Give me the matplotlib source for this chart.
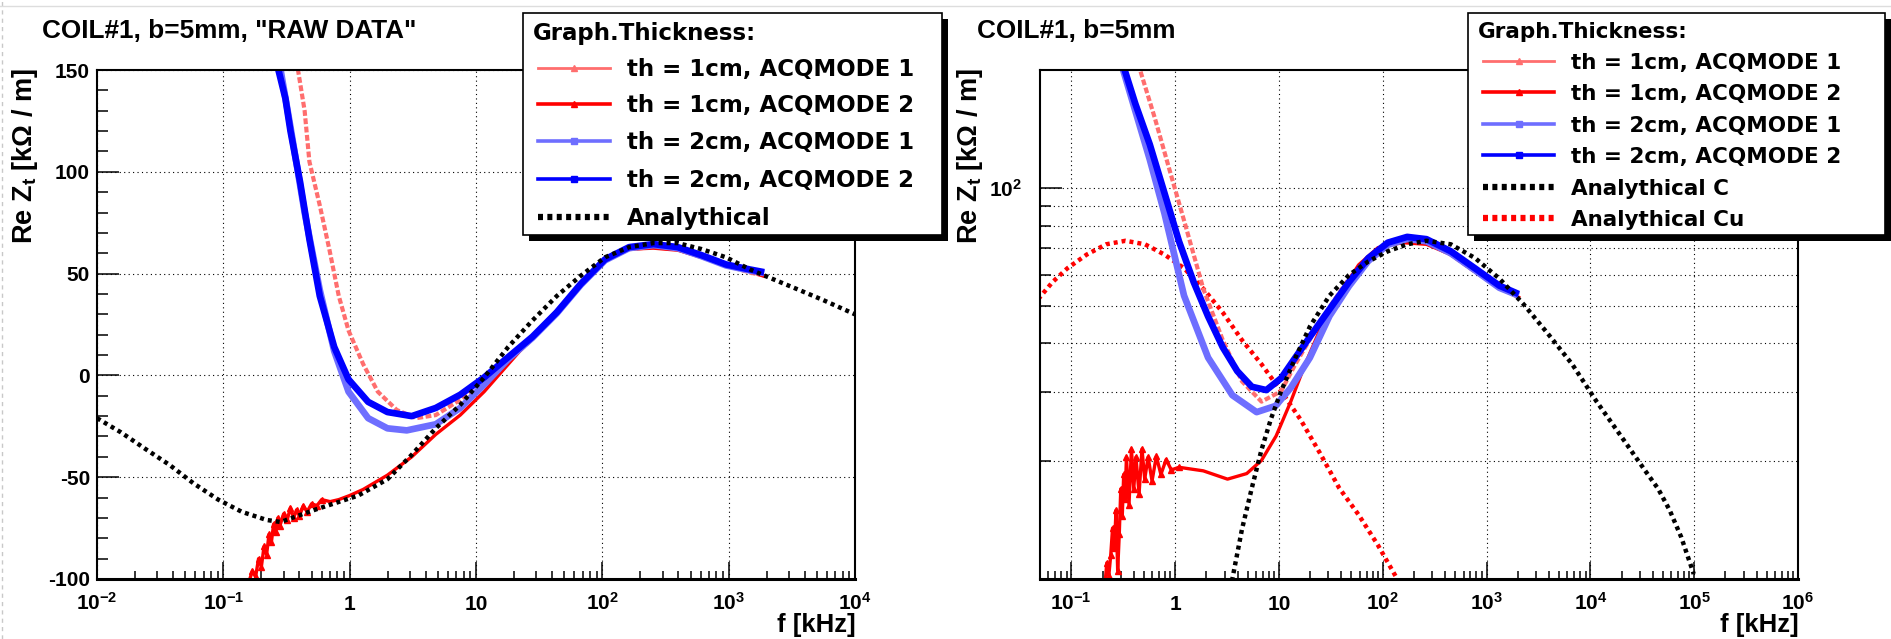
import matplotlib
matplotlib.use("Agg")
import matplotlib.pyplot as plt
from matplotlib.lines import Line2D
from matplotlib.patches import Rectangle
from matplotlib.ticker import (FixedLocator, FixedFormatter, LogLocator,
                               MultipleLocator, NullFormatter)

plt.rcParams['font.family'] = ['Liberation Sans', 'DejaVu Sans']
plt.rcParams['font.weight'] = 'bold'
plt.rcParams['mathtext.fontset'] = 'custom'
plt.rcParams['mathtext.rm'] = 'Liberation Sans:bold'
plt.rcParams['mathtext.bf'] = 'Liberation Sans:bold'
plt.rcParams['mathtext.it'] = 'Liberation Sans:bold'
plt.rcParams['mathtext.default'] = 'bf'

# ------------------------------------------------------------------ data
# Left panel: "RAW DATA" (linear y)
L_f_1cm_m1 = [0.36, 0.39, 0.44, 0.48, 0.58, 0.69, 0.82, 0.98, 1.28, 1.67, 2.36, 3.37, 4.8, 7.5,
              11.6, 18, 28, 43.6, 67.6, 105, 163, 254, 395, 613, 953, 1480, 1910]
L_v_1cm_m1 = [175, 150, 130, 105, 83.5, 62, 39, 22, 5.5, -8, -17, -21, -19.5, -12,
              -3, 7, 18, 31, 45, 56.5, 62, 63, 62, 58, 54, 50.5, 49]

L_f_1cm_m2 = [0.16, 0.17, 0.18, 0.19, 0.20, 0.21, 0.22, 0.23, 0.24, 0.25, 0.26, 0.27, 0.28,
              0.30, 0.32, 0.34, 0.36, 0.38, 0.40, 0.43, 0.46, 0.50, 0.55, 0.60, 0.70, 0.82,
              1.0, 1.28, 1.99, 3.1, 4.8, 7.5, 11.6, 18, 28, 43.6, 67.6, 105, 163, 254, 395,
              613, 953, 1480, 1910]
L_v_1cm_m2 = [-101, -96, -99, -90, -94, -84, -88, -78, -82, -73, -77, -70, -74,
              -68, -71, -65, -70, -66, -69, -64, -67, -63, -64, -61, -62, -61,
              -59, -56, -49, -40, -29, -19.5, -8, 5.5, 19, 32, 45, 57, 62, 62.5, 61.5,
              58, 54, 51, 48.7]

L_f_2cm_m1 = [0.26, 0.284, 0.34, 0.44, 0.58, 0.754, 0.98, 1.40, 1.99, 2.83, 4.8, 7.5, 11.6,
              18, 28, 43.6, 67.6, 105, 163, 254, 395, 613, 953, 1480, 1910]
L_v_2cm_m1 = [175, 150, 122, 80, 42, 12, -8, -21, -26, -27, -24, -16, -4.5,
              8, 18.5, 30.5, 44.5, 56.5, 62.5, 64, 62.5, 58.5, 54, 51.5, 50.3]

L_f_2cm_m2 = [0.25, 0.273, 0.31, 0.34, 0.405, 0.48, 0.58, 0.754, 0.98, 1.40, 1.99, 3.1, 4.8,
              7.5, 11.6, 18, 28, 43.6, 67.6, 105, 163, 254, 395, 613, 953, 1480, 1910]
L_v_2cm_m2 = [170, 150, 136, 120, 95, 67, 39, 14, -2, -13, -18, -20, -16,
              -9.5, -1, 9, 19, 31, 45, 57, 63, 64.5, 63, 59, 54.5, 52, 50.7]

L_f_anal = [0.01, 0.0155, 0.024, 0.0376, 0.058, 0.091, 0.14, 0.22, 0.284, 0.53, 1.17, 1.99,
            3.1, 4.8, 7.5, 11.6, 18, 28, 43.6, 67.6, 105, 163, 254, 395, 613, 953, 1480,
            2300, 3600, 5600, 10000]
L_v_anal = [-21, -28, -36, -44, -53, -61, -67, -71, -72, -66, -59, -51,
            -39, -26, -14.5, -1, 14, 27, 39, 49, 58, 63, 65, 65, 62, 58, 52,
            47, 42, 37, 30]

# Right panel (log y)
R_f_1cm_m1 = [0.40, 0.46, 0.637, 0.879, 1.22, 1.87, 2.88, 4.41, 6.8, 10.5, 14.5, 19.9, 30.7,
              47.2, 72.6, 112, 172, 264, 453, 777, 1330, 2040]
R_v_1cm_m1 = [240, 200, 151, 111.7, 82.5, 55.2, 40.8, 32.0, 28.4, 30.2, 35.5, 41, 49.5,
              58.5, 66.5, 72, 73.5, 72.5, 67.5, 61, 55.5, 52.5]

R_f_1cm_m2 = [0.21, 0.22, 0.23, 0.24, 0.25, 0.26, 0.27, 0.28, 0.29, 0.30, 0.31, 0.32, 0.33,
              0.34, 0.36, 0.38, 0.40, 0.42, 0.45, 0.48, 0.51, 0.55, 0.60, 0.66, 0.73, 0.82,
              0.92, 1.09, 1.87, 3.2, 4.9, 6.8, 9.4, 13, 17.9, 24.8, 38, 58.5, 90, 155, 264,
              453, 777, 1330, 2040]
R_v_1cm_m2 = [9.5, 11.0, 10.2, 11.5, 13.5, 12.0, 15.0, 10.5, 13.0, 17.0, 14.5, 18.5, 16.0,
              20.5, 15.5, 21.5, 17.0, 20.5, 16.5, 21.5, 18.0, 20.5, 17.8, 20.6, 18.5, 20.2,
              19.0, 19.3, 18.9, 18.0, 18.6, 20.1, 23.2, 28.4, 35.4, 43.3, 53, 63.5, 70.3,
              72.4, 71.7, 67.5, 61, 55.7, 52.5]

R_f_2cm_m1 = [0.28, 0.316, 0.571, 0.79, 1.22, 2.08, 3.56, 6.1, 9.3, 13, 19.9, 30.7, 47.2,
              72.6, 112, 172, 264, 453, 777, 1330, 2040]
R_v_2cm_m1 = [240, 200, 118, 86, 53, 36.8, 29.5, 26.7, 27.7, 30.8, 36.8, 47, 56,
              65, 71.5, 74, 73, 68, 61.5, 55.5, 53]

R_f_2cm_m2 = [0.29, 0.327, 0.414, 0.571, 0.79, 1.09, 1.51, 2.08, 2.88, 3.97, 5.49, 7.57, 10.5,
              14.5, 19.9, 30.7, 47.2, 72.6, 112, 172, 264, 453, 777, 1330, 2040]
R_v_2cm_m2 = [240, 200, 164, 129, 97, 73, 57.4, 46.9, 39.1, 34.0, 31.0, 30.4, 32.6,
              36.9, 41.6, 48.9, 57.4, 66.1, 72.4, 74.9, 73.9, 68.8, 62.2, 56.2, 53.5]

R_f_anC = [3.4, 3.56, 4.41, 5.49, 6.8, 8.4, 10.5, 14.5, 19.9, 30.7, 47.2, 72.6, 112, 172, 264,
           453, 777, 1330, 2270, 3890, 6680, 11500, 19700, 33800, 45000, 58000, 75000, 99000]
R_v_anC = [9, 10, 13.4, 17.1, 21.4, 25.7, 30.2, 36.9, 44.2, 53, 59.8, 64.8, 68.8, 71.7, 73.2,
           71.7, 66.1, 58.6, 50.4, 42.4, 35.4, 28.4, 23.2, 18.9, 17.0, 15.0, 12.8, 10.3]

R_f_anCu = [0.048, 0.066, 0.092, 0.141, 0.217, 0.333, 0.513, 0.79, 1.22, 1.87, 2.88, 4.41,
            6.8, 10.5, 16.1, 24.8, 38, 58.5, 90, 138, 150]
R_v_anCu = [51.9, 57.4, 62.3, 67.5, 71.7, 73.2, 71.7, 67.5, 62.3, 55.2, 48, 40.8,
            35.4, 30.2, 25.6, 21.0, 17.1, 14.6, 12.2, 10, 9.5]

# ticks / labels
L_xtick_vals = [1e-2, 1e-1, 1, 10, 1e2, 1e3, 1e4]
L_xtick_labels = [r'$10^{-2}$', r'$10^{-1}$', '1', '10', r'$10^{2}$', r'$10^{3}$', r'$10^{4}$']
L_ytick_vals = [-100, -50, 0, 50, 100, 150]
L_ytick_labels = ['-100', '-50', '0', '50', '100', '150']
R_xtick_vals = [1e-1, 1, 10, 1e2, 1e3, 1e4, 1e5, 1e6]
R_xtick_labels = [r'$10^{-1}$', '1', '10', r'$10^{2}$', r'$10^{3}$', r'$10^{4}$',
                  r'$10^{5}$', r'$10^{6}$']
R_ytick_vals = [100]
R_ytick_labels = [r'$10^{2}$']
R_yminor_vals = [20, 30, 40, 50, 60, 70, 80, 90]

title_left = 'COIL#1, b=5mm, "RAW DATA"'
title_right = 'COIL#1, b=5mm'
ylabel = r'Re $Z_{t}$ [kΩ / m]'
xlabel = 'f [kHz]'
legend_title = 'Graph.Thickness:'
lab_1cm_m1 = 'th = 1cm, ACQMODE 1'
lab_1cm_m2 = 'th = 1cm, ACQMODE 2'
lab_2cm_m1 = 'th = 2cm, ACQMODE 1'
lab_2cm_m2 = 'th = 2cm, ACQMODE 2'

# ------------------------------------------------------------------ styles
C_LRED = '#ff6e6e'
C_RED = '#ff0000'
C_LBLUE = '#6e6eff'
C_BLUE = '#0000ff'
DOT = (0, (0.9, 0.9))
TICK_FS = 15

W, H = 1891, 639
fig = plt.figure(figsize=(W / 100, H / 100), dpi=100)
fig.patch.set_facecolor('white')


def fx(x):
    return x / W


def fy(y):
    return 1 - y / H


axL = fig.add_axes([fx(97), fy(579), (855 - 97) / W, (579 - 70) / H])
axR = fig.add_axes([fx(1040), fy(579), (1798 - 1040) / W, (579 - 70) / H])

GRID = dict(color='black', linestyle=(0, (1, 3)), linewidth=0.8)


def style_axes(ax):
    for s in ax.spines.values():
        s.set_linewidth(1.5)
        s.set_color('black')
    ax.spines['bottom'].set_linewidth(2.2)
    ax.tick_params(which='both', direction='in', top=False, right=False,
                   color='black', width=1.1)
    ax.tick_params(axis='y', which='major', length=16, labelsize=TICK_FS, pad=5)
    ax.tick_params(axis='y', which='minor', length=8)
    ax.tick_params(axis='x', which='major', length=12, labelsize=TICK_FS, pad=22)
    ax.tick_params(axis='x', which='minor', length=6)
    ax.xaxis.set_minor_locator(LogLocator(base=10, subs=range(2, 10), numticks=100))
    ax.xaxis.set_minor_formatter(NullFormatter())


# ---------------- left panel
axL.set_xscale('log')
axL.set_xlim(1e-2, 1e4)
axL.set_ylim(-100, 150)
style_axes(axL)
axL.xaxis.set_major_locator(FixedLocator(L_xtick_vals))
axL.xaxis.set_major_formatter(FixedFormatter(L_xtick_labels))
axL.yaxis.set_major_locator(FixedLocator(L_ytick_vals))
axL.yaxis.set_major_formatter(FixedFormatter(L_ytick_labels))
axL.yaxis.set_minor_locator(MultipleLocator(10))
axL.grid(True, which='major', **GRID)

axL.plot(L_f_1cm_m1, L_v_1cm_m1, color=C_LRED, lw=3.0, ls=(0, (1.4, 0.6)), zorder=2)
axL.plot(L_f_1cm_m2, L_v_1cm_m2, color=C_RED, lw=2.4, marker='^', ms=4,
         markevery=list(range(24)), zorder=2.1)
axL.plot(L_f_2cm_m1, L_v_2cm_m1, color=C_LBLUE, lw=4.8, solid_capstyle='butt', zorder=2.2)
axL.plot(L_f_2cm_m2, L_v_2cm_m2, color=C_BLUE, lw=4.8, solid_capstyle='butt', zorder=2.3)
axL.plot(L_f_anal, L_v_anal, color='black', lw=3.2, ls=DOT, zorder=2.4)

# ---------------- right panel
axR.set_xscale('log')
axR.set_yscale('log')
axR.set_xlim(0.05, 1e6)
axR.set_ylim(10, 200)
style_axes(axR)
axR.xaxis.set_major_locator(FixedLocator(R_xtick_vals))
axR.xaxis.set_major_formatter(FixedFormatter(R_xtick_labels))
axR.yaxis.set_major_locator(FixedLocator(R_ytick_vals))
axR.yaxis.set_major_formatter(FixedFormatter(R_ytick_labels))
axR.yaxis.set_minor_locator(FixedLocator(R_yminor_vals))
axR.yaxis.set_minor_formatter(NullFormatter())
axR.tick_params(axis='y', which='major', pad=13)
axR.grid(True, which='major', **GRID)
axR.grid(True, which='minor', axis='y', **GRID)

axR.plot(R_f_anCu, R_v_anCu, color=C_RED, lw=3.2, ls=DOT, zorder=1.9)
axR.plot(R_f_1cm_m1, R_v_1cm_m1, color=C_LRED, lw=3.0, ls=(0, (1.4, 0.6)), zorder=2)
axR.plot(R_f_1cm_m2, R_v_1cm_m2, color=C_RED, lw=2.4, marker='^', ms=4,
         markevery=list(range(28)), zorder=2.1)
axR.plot(R_f_2cm_m1, R_v_2cm_m1, color=C_LBLUE, lw=4.8, solid_capstyle='butt', zorder=2.2)
axR.plot(R_f_2cm_m2, R_v_2cm_m2, color=C_BLUE, lw=4.8, solid_capstyle='butt', zorder=2.3)
axR.plot(R_f_anC, R_v_anC, color='black', lw=3.2, ls=DOT, zorder=2.4)

for ax in (axL, axR):
    for lab in ax.get_xticklabels():
        lab.set_verticalalignment('baseline')

# ---------------- texts
fig.text(fx(42), fy(38), title_left, ha='left', va='baseline', fontsize=18.8)
fig.text(fx(977), fy(38), title_right, ha='left', va='baseline', fontsize=18.8)
fig.text(fx(32), fy(68), ylabel, rotation=90, rotation_mode='anchor',
         ha='right', va='baseline', fontsize=19.5)
fig.text(fx(977), fy(68), ylabel, rotation=90, rotation_mode='anchor',
         ha='right', va='baseline', fontsize=19.5)
fig.text(fx(856), fy(632), xlabel, ha='right', va='baseline', fontsize=18.5)
fig.text(fx(1799), fy(632), xlabel, ha='right', va='baseline', fontsize=18.5)


# ---------------- legends (drawn as boxes like ROOT TLegend)
LEG_FONT = ['DejaVu Sans']


def draw_legend(x0, y0, x1, y1, title_x, title_c, rows, lx0, lx1, tx, fs):
    em = fs * 100 / 72.0
    fig.add_artist(Rectangle((fx(x0 + 6), fy(y1 + 6)), (x1 - x0) / W, (y1 - y0) / H,
                             transform=fig.transFigure, facecolor='black',
                             edgecolor='black', lw=0, zorder=10))
    fig.add_artist(Rectangle((fx(x0), fy(y1)), (x1 - x0) / W, (y1 - y0) / H,
                             transform=fig.transFigure, facecolor='white',
                             edgecolor='black', lw=1.2, zorder=11))
    fig.text(fx(title_x), fy(title_c + 0.365 * em), legend_title, ha='left',
             va='baseline', fontsize=fs, zorder=12, family=LEG_FONT)
    for yc, label, st in rows:
        kw = dict(color=st['color'], lw=st['lw'], transform=fig.transFigure, zorder=12)
        if 'ls' in st:
            kw['linestyle'] = st['ls']
        fig.add_artist(Line2D([fx(lx0), fx(lx1)], [fy(yc), fy(yc)], **kw))
        if 'marker' in st:
            fig.add_artist(Line2D([fx((lx0 + lx1) / 2)], [fy(yc)], marker=st['marker'],
                                  ms=st['ms'], color=st['color'], lw=0,
                                  transform=fig.transFigure, zorder=12.5))
        fig.text(fx(tx), fy(yc + 0.365 * em), label, ha='left', va='baseline',
                 fontsize=fs, zorder=12, family=LEG_FONT)


ST_LRED = dict(color=C_LRED, lw=2.0, marker='^', ms=4)
ST_RED = dict(color=C_RED, lw=2.6, marker='^', ms=4)
ST_LBLUE = dict(color=C_LBLUE, lw=2.6, marker='s', ms=4.5)
ST_BLUE = dict(color=C_BLUE, lw=2.6, marker='s', ms=4.5)
ST_BLK = dict(color='black', lw=4.5, ls=(0, (0.8, 0.7)))
ST_RDOT = dict(color=C_RED, lw=4.5, ls=(0, (0.8, 0.7)))

draw_legend(523, 13, 942, 235, 533, 32,
            [(68, lab_1cm_m1, ST_LRED), (104, lab_1cm_m2, ST_RED),
             (141, lab_2cm_m1, ST_LBLUE), (179, lab_2cm_m2, ST_BLUE),
             (217, 'Analythical', ST_BLK)],
            538, 610, 627, 16.5)

draw_legend(1468, 13, 1885, 235, 1478, 30,
            [(61, lab_1cm_m1, ST_LRED), (92, lab_1cm_m2, ST_RED),
             (124, lab_2cm_m1, ST_LBLUE), (155, lab_2cm_m2, ST_BLUE),
             (187, 'Analythical C', ST_BLK), (218, 'Analythical Cu', ST_RDOT)],
            1483, 1554, 1571, 15.5)

# page edge decorations
fig.add_artist(Line2D([fx(2), fx(2)], [0, 1], color='#c8c8c8', lw=1,
                      ls=(0, (3, 3)), transform=fig.transFigure))
fig.add_artist(Line2D([0, 1], [fy(6), fy(6)], color='#dddddd', lw=1,
                      transform=fig.transFigure))

fig.savefig('out.png', dpi=100, facecolor='white')
